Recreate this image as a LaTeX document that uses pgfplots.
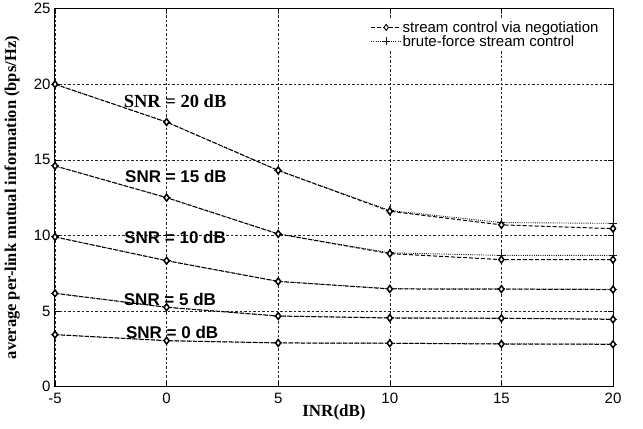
\documentclass[border=0pt]{standalone}
\usepackage{fontspec}
\setmainfont{Liberation Serif}
\setsansfont{Liberation Sans}
\usepackage{pgfplots}
\pgfplotsset{compat=1.18}
\begin{document}
\begin{tikzpicture}
\begin{axis}[
  at={(0pt,0pt)}, anchor=south west,
  scale only axis, width=558pt, height=378pt,
  xmin=-5, xmax=20, ymin=0, ymax=25,
  xtick={-5,0,5,10,15,20}, ytick={0,5,10,15,20,25},
  tick align=inside, major tick length=5pt,
  xtick pos=both, ytick pos=both,
  axis line style={line width=1pt},
  every tick/.style={black, line width=0.6pt},
  grid=major,
  major grid style={black!85, line width=0.55pt, dash pattern=on 2.5pt off 2pt},
  /pgf/number format/assume math mode=true,
  ticklabel style={font=\sffamily\fontsize{15}{17}\selectfont},
  xticklabel style={yshift=-3pt},
  yticklabel style={xshift=-1pt},
  xlabel={\textbf{INR(dB)}},
  ylabel={\textbf{average per-link mutual information (bps/Hz)}},
  xlabel style={font=\fontsize{17}{19}\selectfont, at={(axis description cs:0.5,-0.069)}, anchor=center},
  ylabel style={font=\fontsize{16.5}{18}\selectfont, at={(axis description cs:-0.077,0.5)}, anchor=center},
  legend style={draw=none, fill=white, font=\sffamily\fontsize{15}{16}\selectfont,
    at={(rel axis cs:0.978,0.972)}, anchor=north east, inner sep=1pt,
    row sep=0pt, cells={anchor=west}, nodes={inner ysep=0.8pt, inner xsep=1pt}},
  legend image code/.code={\draw[mark repeat=2, mark phase=2, #1] plot coordinates {(0pt,0pt) (15pt,0pt) (30pt,0pt)};},
  nego/.style={black, line width=1pt, dash pattern=on 4pt off 2pt, mark=diamond*, mark size=3.4pt, mark options={solid, line width=1.5pt, fill=white}},
  brute/.style={black!90, line width=0.9pt, dash pattern=on 1pt off 1.2pt, mark=+, mark size=4pt, mark options={solid, line width=1pt}},
]
% legend entries
\addlegendimage{black, line width=0.9pt, dash pattern=on 4pt off 2pt, mark=diamond*, mark size=3pt, mark options={solid, line width=0.9pt, fill=white}}
\addlegendentry{stream control via negotiation}
\addlegendimage{brute}\addlegendentry{brute-force stream control}
% brute-force
\addplot[brute, forget plot] coordinates {(-5,20.0) (0,17.5) (5,14.3) (10,11.65) (15,10.85) (20,10.8)};
\addplot[brute, forget plot] coordinates {(-5,14.6) (0,12.5) (5,10.1) (10,8.85) (15,8.68) (20,8.68)};
\addplot[brute, forget plot] coordinates {(-5,9.9) (0,8.33) (5,6.96) (10,6.48) (15,6.46) (20,6.44)};
\addplot[brute, forget plot] coordinates {(-5,6.17) (0,5.25) (5,4.67) (10,4.55) (15,4.53) (20,4.47)};
\addplot[brute, forget plot] coordinates {(-5,3.44) (0,3.04) (5,2.89) (10,2.87) (15,2.83) (20,2.81)};
% negotiation
\addplot[nego, forget plot] coordinates {(-5,20.0) (0,17.5) (5,14.3) (10,11.6) (15,10.7) (20,10.45)};
\addplot[nego, forget plot] coordinates {(-5,14.6) (0,12.5) (5,10.1) (10,8.8) (15,8.4) (20,8.4)};
\addplot[nego, forget plot] coordinates {(-5,9.9) (0,8.33) (5,6.96) (10,6.46) (15,6.45) (20,6.42)};
\addplot[nego, forget plot] coordinates {(-5,6.17) (0,5.25) (5,4.67) (10,4.54) (15,4.52) (20,4.45)};
\addplot[nego, forget plot] coordinates {(-5,3.44) (0,3.04) (5,2.89) (10,2.87) (15,2.82) (20,2.80)};
% labels
\node[font=\bfseries\fontsize{18.5}{20}\selectfont] at (axis cs:0.38,18.9) {SNR = 20 dB};
\node[font=\sffamily\bfseries\fontsize{17}{19}\selectfont] at (axis cs:0.42,13.9) {SNR = 15 dB};
\node[font=\sffamily\bfseries\fontsize{17}{19}\selectfont] at (axis cs:0.38,9.9) {SNR = 10 dB};
\node[font=\sffamily\bfseries\fontsize{17}{19}\selectfont] at (axis cs:0.15,5.8) {SNR = 5 dB};
\node[font=\sffamily\bfseries\fontsize{17}{19}\selectfont] at (axis cs:0.25,3.6) {SNR = 0 dB};
\end{axis}
\path (-55pt,-42pt) rectangle (588pt,386pt);
\end{tikzpicture}
\end{document}
